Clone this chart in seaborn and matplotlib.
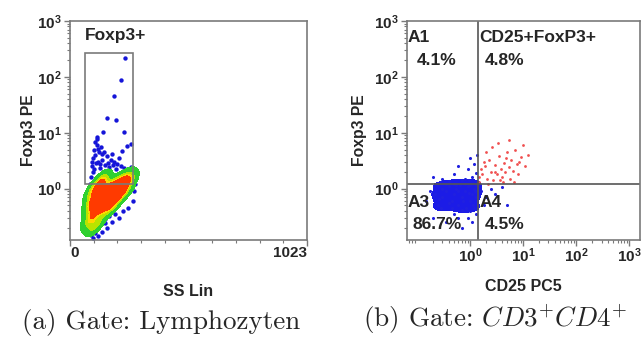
import numpy as np
import pandas as pd
import seaborn as sns
import matplotlib.pyplot as plt
from matplotlib.patches import Rectangle
from matplotlib.colors import ListedColormap
import matplotlib.ticker as mticker

sns.set_style("white")
plt.rcParams["font.family"] = ["Liberation Sans", "DejaVu Sans"]
plt.rcParams["mathtext.fontset"] = "custom"
plt.rcParams["mathtext.rm"] = "Liberation Sans:bold"
plt.rcParams["mathtext.bf"] = "Liberation Sans:bold"

# --- panel (a): SS Lin vs Foxp3 PE, lymphocyte gate (estimated points) ---
core_ss = [90, 100, 110, 120, 140, 160, 180, 200, 220, 240, 260, 130, 150, 170, 190,
           210, 110, 130, 150, 170, 190, 120, 140, 160, 180, 200, 220, 100, 95, 105,
           125, 145, 230, 250, 200, 240, 90, 85, 100, 120, 160, 180, 140, 210]
core_fox = [0.30, 0.40, 0.50, 0.60, 0.70, 0.80, 0.90, 1.00, 1.10, 1.20, 1.40, 0.50, 0.60, 0.70, 0.80,
            0.90, 0.70, 0.90, 1.00, 1.10, 1.20, 0.40, 0.45, 0.55, 0.65, 0.75, 0.85, 0.60, 0.80, 1.00,
            1.20, 1.30, 1.50, 1.60, 0.60, 0.90, 0.50, 0.25, 0.20, 0.25, 0.40, 0.50, 1.50, 1.30]
fringe_ss = [95, 100, 105, 110, 115, 120, 125, 130, 135, 140, 150, 160, 170, 180, 190, 200, 210,
             220, 235, 250, 265, 275, 245, 225, 108, 118, 98, 92, 88, 86,
             90, 95, 100, 105, 110, 115, 120, 130, 140, 150, 160, 170, 180, 195, 210, 230, 250,
             270, 275, 280, 78, 80, 82,
             237, 220, 190, 160, 199, 143, 233, 263, 116,
             102, 112, 128, 138, 155, 165, 185, 205, 96, 122, 148, 176, 92, 106, 132, 152]
fringe_fox = [2.5, 3.5, 5.0, 4.0, 6.0, 3.0, 4.5, 2.8, 5.5, 3.2, 2.6, 3.8, 2.4, 4.2, 3.0, 2.2, 3.5,
              2.5, 2.3, 2.1, 2.4, 2.0, 5.8, 4.8, 6.8, 8.5, 2.0, 1.6, 1.2, 0.9,
              0.15, 0.20, 0.13, 0.25, 0.18, 0.30, 0.14, 0.22, 0.17, 0.28, 0.20, 0.32, 0.25, 0.35, 0.30, 0.40, 0.45,
              0.60, 0.90, 1.20, 0.50, 0.30, 0.70,
              218, 89, 46, 18.5, 17, 10.4, 10.4, 6.3, 7.8,
              2.2, 2.9, 2.3, 4.1, 2.1, 2.9, 2.6, 2.8, 3.0, 5.2, 4.6, 3.3, 0.22, 0.16, 0.3, 0.24]
gate_a = (65, 272, 1.2, 270)  # x0, x1, y0, y1

# --- panel (b): CD25 PC5 vs Foxp3 PE, CD3+CD4+ gate (estimated points) ---
dense_cd25 = [0.25, 0.3, 0.35, 0.4, 0.45, 0.5, 0.55, 0.6, 0.7, 0.8, 0.9, 1.0, 1.1, 1.2, 1.3,
              0.3, 0.4, 0.65, 0.85, 1.15, 0.22, 0.75, 0.95, 0.5, 1.05, 0.28, 0.6, 1.25,
              0.24, 0.35, 0.55, 0.8, 1.0, 1.3, 0.45, 0.7, 1.2, 0.26]
dense_fox = [0.5, 0.7, 0.9, 1.1, 0.6, 0.8, 1.0, 0.5, 0.7, 0.9, 1.1, 0.6, 0.8, 1.0, 0.7,
             1.0, 0.55, 1.15, 0.45, 0.5, 0.8, 0.6, 0.85, 1.2, 1.2, 0.45, 0.9, 0.9,
             1.15, 1.2, 1.15, 1.2, 1.15, 1.15, 0.45, 0.42, 0.45, 0.65]
blue_cd25 = [0.3, 0.5, 0.7, 0.9, 1.1, 1.2, 1.0, 0.6, 0.8, 0.4, 1.3, 0.2, 1.35, 0.95,
             0.2, 0.35, 0.5, 0.7, 0.9, 1.1, 1.0, 0.6, 0.15, 0.18, 1.3,
             1.6, 2.0, 2.5, 3.0, 5.0, 1.8, 4.0]
blue_fox = [1.5, 1.8, 1.4, 2.2, 1.6, 2.8, 3.5, 2.5, 1.5, 1.35, 1.9, 1.6, 4.0, 1.4,
            0.3, 0.25, 0.35, 0.2, 0.3, 0.25, 0.4, 0.3, 0.6, 0.9, 0.35,
            0.9, 0.7, 1.0, 0.8, 0.5, 0.5, 1.05]
red_cd25 = [1.5, 1.7, 1.9, 2.1, 2.3, 2.5, 2.7, 3.0, 3.2, 3.5, 3.8, 4.0, 4.3, 4.6, 5.0, 5.3, 5.7,
            6.0, 6.5, 7.0, 7.5, 8.0, 9.0, 10.0, 11.0, 12.5, 1.6, 1.8, 2.0, 2.6, 3.3, 4.2, 2.2,
            1.5, 3.6, 5.5, 6.8, 8.5, 4.8, 2.9]
red_fox = [1.3, 1.8, 2.5, 1.5, 3.2, 2.0, 1.4, 2.6, 1.8, 3.8, 2.2, 1.6, 2.9, 2.0, 4.5, 2.4, 1.5,
           3.3, 2.1, 5.0, 2.8, 1.8, 3.6, 6.0, 2.5, 4.0, 2.2, 3.0, 4.5, 5.5, 6.5, 1.3, 1.2,
           1.6, 1.4, 7.5, 1.3, 3.0, 3.5, 2.0]
quad_x, quad_y = 1.42, 1.2
quad_labels = [("A1", "4.1%"), ("CD25+FoxP3+", "4.8%"), ("A3", "86.7%"), ("A4", "4.5%")]

fig = plt.figure(figsize=(6.41, 3.38), dpi=100)
ax1 = fig.add_axes([70 / 641, 98 / 338, 237 / 641, 219 / 338])
ax2 = fig.add_axes([407 / 641, 98 / 338, 233 / 641, 219 / 338])

frame = "#7a7a7a"
dec_labels = [r"$\mathbf{10^{0}}$", r"$\mathbf{10^{1}}$", r"$\mathbf{10^{2}}$", r"$\mathbf{10^{3}}$"]
lab_kw = dict(fontsize=12.5, fontweight="bold", va="center")

# panel (a)
sns.scatterplot(x=fringe_ss, y=fringe_fox, color="#1515d8", s=10, linewidth=0, ax=ax1)
dens_cmap = ListedColormap(["#30d030", "#b8e400", "#ffd800", "#ff8a00", "#ff3a00", "#f00000"])
sns.kdeplot(x=core_ss, y=core_fox, log_scale=(False, True), fill=True,
            levels=[0.015, 0.06, 0.11, 0.16, 0.22, 0.3, 1.0],
            cmap=dens_cmap, bw_adjust=0.8, ax=ax1)
ax1.add_patch(Rectangle((gate_a[0], gate_a[2]), gate_a[1] - gate_a[0], gate_a[3] - gate_a[2],
                        fill=False, edgecolor=frame, lw=1.2))
ax1.text(gate_a[0], 560, "Foxp3+", **lab_kw)
ax1.set_xlim(0, 1023)
ax1.set_xticks([0, 1023])
ax1.set_xticklabels(["0", "1023"], fontweight="bold")
ax1.get_xticklabels()[0].set_ha("left")
ax1.get_xticklabels()[1].set_ha("right")
ax1.xaxis.set_minor_locator(mticker.FixedLocator(np.arange(1, 10) * 102.3))

# panel (b)
sns.kdeplot(x=dense_cd25, y=dense_fox, log_scale=True, fill=True, levels=[0.1, 1],
            cmap=ListedColormap(["#1c1ce6"]), bw_adjust=0.7, ax=ax2)
sns.scatterplot(x=dense_cd25 + blue_cd25, y=dense_fox + blue_fox, color="#2020e0",
                s=5, linewidth=0, ax=ax2)
sns.scatterplot(x=red_cd25, y=red_fox, color="#f05050", s=4, linewidth=0, ax=ax2)
ax2.axvline(quad_x, color="#555555", lw=1.2)
ax2.axhline(quad_y, color="#555555", lw=1.2)
ax2.set_xscale("log")
ax2.set_xlim(0.065, 10 ** 3.2)
ax2.set_xticks([1, 10, 100, 1000])
ax2.set_xticklabels(dec_labels)
ax2.xaxis.set_minor_locator(mticker.LogLocator(subs=np.arange(2, 10)))
ax2.xaxis.set_minor_formatter(mticker.NullFormatter())
ax2.text(0.068, 500, quad_labels[0][0], **lab_kw)
ax2.text(0.098, 200, quad_labels[0][1], **lab_kw)
ax2.text(1.5, 500, quad_labels[1][0], **lab_kw)
ax2.text(1.9, 200, quad_labels[1][1], **lab_kw)
ax2.text(0.068, 0.56, quad_labels[2][0], **lab_kw)
ax2.text(0.082, 0.23, quad_labels[2][1], **lab_kw)
ax2.text(1.5, 0.56, quad_labels[3][0], **lab_kw)
ax2.text(1.9, 0.23, quad_labels[3][1], **lab_kw)

for ax in (ax1, ax2):
    ax.set_yscale("log")
    ax.set_ylim(0.12, 1000)
    ax.set_yticks([1, 10, 100, 1000])
    ax.set_yticklabels(dec_labels)
    ax.yaxis.set_minor_locator(mticker.LogLocator(subs=np.arange(2, 10)))
    ax.yaxis.set_minor_formatter(mticker.NullFormatter())
    ax.tick_params(which="major", length=4, width=1, color=frame, labelsize=11, pad=2,
                   left=True, bottom=True)
    ax.tick_params(axis="x", which="major", pad=0.5)
    ax.tick_params(which="minor", length=2.5, width=0.8, color=frame, left=True, bottom=True)
    for sp in ax.spines.values():
        sp.set_color(frame)
        sp.set_linewidth(1.2)

ax1.set_ylabel("Foxp3 PE", fontsize=11.3, fontweight="bold", labelpad=1)
ax2.set_ylabel("Foxp3 PE", fontsize=11.3, fontweight="bold", labelpad=5)
ax1.set_xlabel("SS Lin", fontsize=11.5, fontweight="bold", labelpad=17)
ax2.set_xlabel("CD25 PC5", fontsize=11.5, fontweight="bold", labelpad=10)

fig.text(161 / 641, 1 - 322 / 338, "(a) Gate: Lymphozyten", family="cmr10",
         fontsize=19.5, ha="center", va="center")
fig.text(495 / 641, 1 - 320 / 338, "(b) Gate: $CD3^{+}CD4^{+}$", family="cmr10",
         math_fontfamily="cm", fontsize=19.5, ha="center", va="center")

plt.savefig("out.png", dpi=100)
